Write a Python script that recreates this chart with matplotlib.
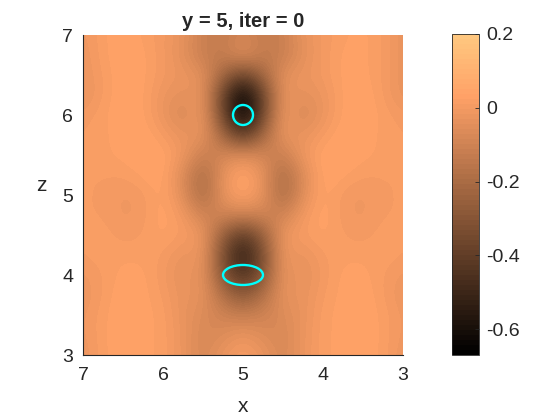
# plot.py: field slice at y = 5 with the two cyan outlines
import numpy as np
import matplotlib
matplotlib.use('Agg')
import matplotlib.pyplot as plt
from matplotlib.patches import Ellipse

plt.rcParams['font.family'] = ['Liberation Sans', 'DejaVu Sans']

x_ticks = [3, 4, 5, 6, 7]
z_ticks = [3, 4, 5, 6, 7]
cbar_ticks = [0.2, 0, -0.2, -0.4, -0.6]
cbar_labels = ['0.2', '0', '-0.2', '-0.4', '-0.6']
vmin, vmax = -0.67, 0.2

# rows z = 7 .. 3, columns x = 7 .. 3, step 0.25
field = np.array([
    [-.01, .02, .04, .02, .00, -.03, -.11, -.14, -.08, -.14, -.11, -.03, .00, .02, .03, .01, -.03],
    [-.02, .02, .04, .03, .00, -.04, -.12, -.13, -.04, -.13, -.12, -.04, .00, .03, .03, .01, -.03],
    [-.02, .01, .04, .03, .00, -.02, -.04, -.22, -.38, -.22, -.04, -.02, .00, .03, .03, .01, -.03],
    [-.03, .01, .04, .03, -.02, -.04, -.02, -.38, -.66, -.38, -.02, -.04, -.02, .03, .04, .01, -.03],
    [.00, .02, .04, .03, -.02, -.08, .00, -.36, -.67, -.36, .00, -.08, -.02, .03, .04, .02, .00],
    [.01, .02, .03, .04, .01, -.03, -.02, -.22, -.42, -.22, -.02, -.03, .01, .04, .03, .02, .01],
    [.01, .02, .03, .04, .04, -.01, -.12, -.08, -.05, -.08, -.12, -.01, .04, .04, .03, .02, .01],
    [.01, .01, .01, .03, .04, -.06, -.21, -.03, .05, -.03, -.21, -.06, .04, .03, .01, .01, .01],
    [.01, .01, -.01, .00, .04, -.05, -.21, -.03, .04, -.03, -.21, -.05, .04, .00, -.01, .01, .01],
    [.01, .01, -.01, .00, .04, .00, -.10, -.09, -.10, -.09, -.10, .00, .04, .00, -.01, .01, .01],
    [.01, .02, .00, .01, .03, .01, -.01, -.26, -.42, -.26, -.01, .01, .03, .01, .00, .02, .01],
    [.01, .02, .02, .02, .01, -.03, -.01, -.33, -.55, -.33, -.01, -.03, .01, .02, .02, .02, .01],
    [-.01, .01, .03, .03, .00, -.04, -.02, -.30, -.46, -.30, -.02, -.04, .00, .03, .03, .01, -.01],
    [-.02, .01, .04, .03, .01, -.03, -.03, -.18, -.29, -.18, -.03, -.03, .01, .03, .04, .01, -.02],
    [-.01, .02, .04, .03, .02, -.03, -.06, -.10, -.12, -.10, -.06, -.03, .02, .03, .04, .02, -.01],
    [-.01, .02, .04, .03, .02, -.02, -.08, -.06, -.02, -.06, -.08, -.02, .02, .03, .04, .02, -.01],
    [-.02, .02, .04, .03, .02, -.02, -.08, -.02, .02, -.02, -.08, -.02, .02, .03, .04, .02, -.02],
])

# centre x, centre z, full width, full height
outlines = [
    (5, 6, 0.25, 0.25),
    (5, 4, 0.5, 0.25),
]

fig = plt.figure(figsize=(5.6, 4.2), dpi=100)
ax = fig.add_axes([83 / 560, 65 / 420, 320 / 560, 320 / 420])
im = ax.imshow(field, cmap=plt.get_cmap('copper', 64), vmin=vmin, vmax=vmax,
               extent=[7.125, 2.875, 2.875, 7.125], aspect='auto',
               interpolation='bicubic', interpolation_stage='data')
for cx, cz, w, h in outlines:
    ax.add_patch(Ellipse((cx, cz), w, h, fill=False, edgecolor='#00ffff', lw=1.7))

ax.set_xlim(7, 3)
ax.set_ylim(3, 7)
ax.set_xticks(x_ticks)
ax.set_yticks(z_ticks)
ax.tick_params(axis='x', length=0, labelsize=14, colors='#262626', pad=9)
ax.tick_params(axis='y', length=0, labelsize=14, colors='#262626', pad=7)
ax.spines['top'].set_visible(False)
ax.spines['right'].set_visible(False)
ax.spines['left'].set_color('#262626')
ax.spines['bottom'].set_color('#262626')
ax.set_xlabel('x', fontsize=15, color='#262626', labelpad=9)
ax.set_ylabel('z', fontsize=15, color='#262626', rotation=0, labelpad=15)
ax.set_title('y = 5, iter = 0', fontsize=14.5, fontweight='bold', color='#262626', pad=6)

cax = fig.add_axes([452 / 560, 65 / 420, 27 / 560, 321 / 420])
cb = fig.colorbar(im, cax=cax)
cb.set_ticks(cbar_ticks)
cb.set_ticklabels(cbar_labels)
cb.ax.tick_params(direction='in', length=3, width=0.6, labelsize=14, colors='#262626', pad=5)
cb.outline.set_edgecolor('#262626')
cb.outline.set_linewidth(0.6)

fig.savefig('out.png', dpi=100)
plt.close(fig)
